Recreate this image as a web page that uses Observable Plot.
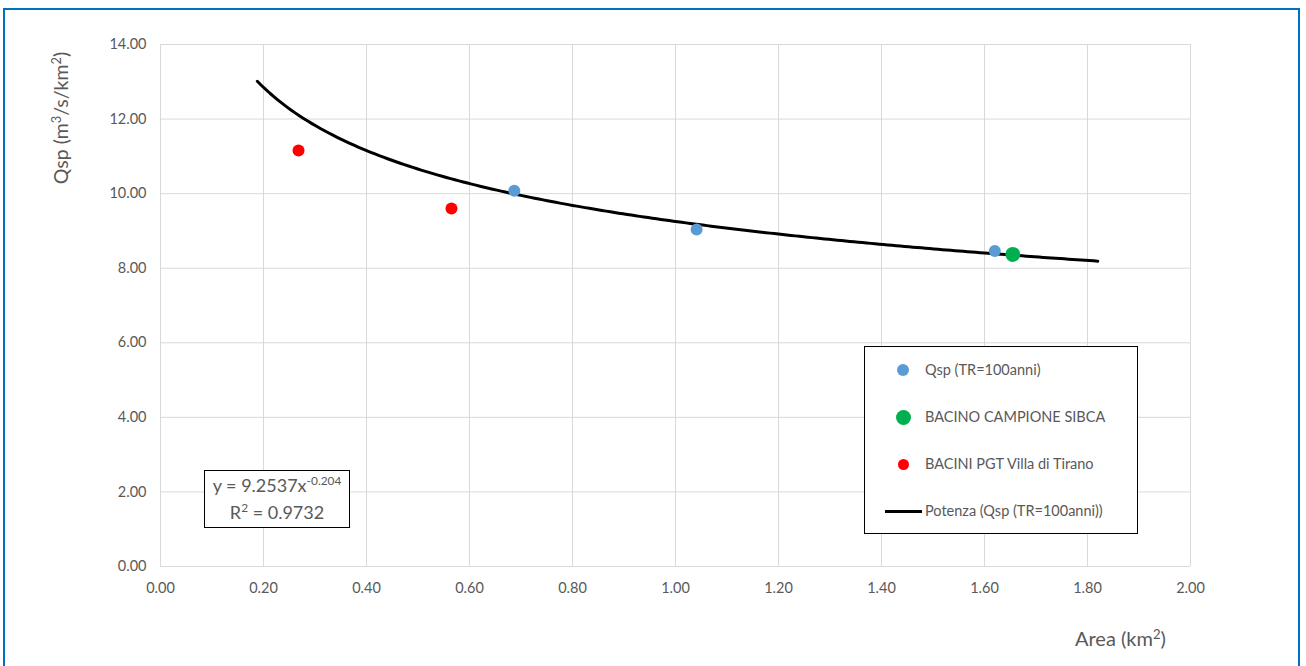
<!DOCTYPE html>
<html>
<head>
<meta charset="utf-8">
<script src="https://cdn.jsdelivr.net/npm/d3@7"></script>
<script src="https://cdn.jsdelivr.net/npm/@observablehq/plot@0.6"></script>
<style>
  html, body { margin: 0; padding: 0; background: #fff; }
  body { width: 1306px; height: 666px; overflow: hidden; position: relative; font-family: Lato, "Open Sans", sans-serif; color: #595959; }
  #frame { position: absolute; left: 3px; top: 8px; width: 1297px; height: 700px; border: 2px solid #0070C0; box-sizing: border-box; pointer-events: none; }
  #chart { position: absolute; left: 0; top: 0; }
  .ylab { position: absolute; left: 60px; top: 118px; transform: translate(-50%, -50%) rotate(-90deg); font-size: 19.5px; white-space: nowrap; }
  .xlab { position: absolute; left: 1075px; top: 626px; font-size: 20px; white-space: nowrap; }
  sup { font-size: 0.66em; vertical-align: 0; position: relative; top: -0.55em; }
  #legend { position: absolute; left: 864px; top: 346px; width: 274px; height: 188px; border: 1px solid #000; box-sizing: border-box; background: #fff; font-size: 14.5px; }
  .li { position: absolute; left: 0; height: 20px; width: 100%; }
  .li .dot { position: absolute; border-radius: 50%; }
  .li .txt { position: absolute; left: 60px; top: 0; line-height: 20px; white-space: nowrap; }
  .li .ln { position: absolute; left: 20px; top: 9px; width: 37px; height: 3px; background: #000; }
  #eq { position: absolute; left: 204px; top: 470px; width: 146px; height: 58px; border: 1px solid #000; box-sizing: border-box; background: #fff; font-size: 18px; text-align: center; line-height: 25px; padding-top: 2px; }
</style>
</head>
<body>
<div id="chart"></div>
<div class="ylab">Qsp (m<sup>3</sup>/s/km<sup>2</sup>)</div>
<div class="xlab">Area (km<sup>2</sup>)</div>
<div id="legend"></div>
<div id="eq"></div>
<div id="frame"></div>
<script>
// Series: Qsp (TR=100anni)
const qspArea = [0.687, 1.041, 1.620];
const qspValue = [10.08, 9.04, 8.46];
// Series: BACINO CAMPIONE SIBCA
const sibcaArea = [1.655];
const sibcaValue = [8.37];
// Series: BACINI PGT Villa di Tirano
const pgtArea = [0.268, 0.565];
const pgtValue = [11.16, 9.60];
// Power trendline (Potenza) as displayed on the chart
const trendCoef = 9.2537;
const trendExp = -0.204;
const trendR2 = 0.9732;
const trendRange = [0.188, 1.82];
// Axis ticks
const xTicks = [0, 0.2, 0.4, 0.6, 0.8, 1.0, 1.2, 1.4, 1.6, 1.8, 2.0];
const yTicks = [0, 2, 4, 6, 8, 10, 12, 14];
// Legend
const seriesNames = ["Qsp (TR=100anni)", "BACINO CAMPIONE SIBCA", "BACINI PGT Villa di Tirano", "Potenza (Qsp (TR=100anni))"];
const seriesColors = ["#5B9BD5", "#00B050", "#FF0000", "#000000"];

const toRows = (xs, ys) => xs.map((x, i) => ({x, y: ys[i]}));
const qsp = toRows(qspArea, qspValue);
const sibca = toRows(sibcaArea, sibcaValue);
const pgt = toRows(pgtArea, pgtValue);
const trend = d3.range(0, 201).map(i => {
  const x = trendRange[0] + (trendRange[1] - trendRange[0]) * i / 200;
  return {x, y: trendCoef * Math.pow(x, trendExp)};
});

const fmt = d => d.toFixed(2);
const plot = Plot.plot({
  width: 1306,
  height: 666,
  marginLeft: 160,
  marginRight: 116,
  marginTop: 44,
  marginBottom: 100,
  style: {fontFamily: "Lato, 'Open Sans', sans-serif", fontSize: "14.5px", color: "#595959", background: "transparent"},
  x: {domain: [0, 2], ticks: xTicks, label: null},
  y: {domain: [0, 14], ticks: yTicks, label: null},
  marks: [
    Plot.gridX(xTicks, {stroke: "#d9d9d9", strokeOpacity: 1, strokeWidth: 1}),
    Plot.gridY(yTicks, {stroke: "#d9d9d9", strokeOpacity: 1, strokeWidth: 1}),
    Plot.axisX(xTicks, {tickSize: 0, tickPadding: 16, tickFormat: fmt, fill: "#595959"}),
    Plot.axisY(yTicks, {tickSize: 0, tickPadding: 14, tickFormat: fmt, fill: "#595959"}),
    Plot.line(trend, {x: "x", y: "y", stroke: seriesColors[3], strokeWidth: 3, curve: "linear"}),
    Plot.dot(qsp, {x: "x", y: "y", r: 6, fill: seriesColors[0], stroke: "none"}),
    Plot.dot(sibca, {x: "x", y: "y", r: 7.5, fill: seriesColors[1], stroke: "none"}),
    Plot.dot(pgt, {x: "x", y: "y", r: 6, fill: seriesColors[2], stroke: "none"})
  ]
});
document.getElementById("chart").appendChild(plot);

// Legend
const legend = document.getElementById("legend");
const dotR = [6, 7.5, 5.5];
seriesNames.forEach((name, i) => {
  const row = document.createElement("div");
  row.className = "li";
  row.style.top = (13 + i * 47) + "px";
  if (i < 3) {
    const dot = document.createElement("div");
    dot.className = "dot";
    const r = dotR[i];
    dot.style.width = dot.style.height = (2 * r) + "px";
    dot.style.left = (38 - r) + "px";
    dot.style.top = (10 - r) + "px";
    dot.style.background = seriesColors[i];
    row.appendChild(dot);
  } else {
    const ln = document.createElement("div");
    ln.className = "ln";
    row.appendChild(ln);
  }
  const t = document.createElement("div");
  t.className = "txt";
  t.textContent = name;
  row.appendChild(t);
  legend.appendChild(row);
});

// Equation box
document.getElementById("eq").innerHTML =
  "y = " + trendCoef + "x<sup>" + trendExp.toFixed(3) + "</sup><br>R<sup>2</sup> = " + trendR2;
</script>
</body>
</html>
